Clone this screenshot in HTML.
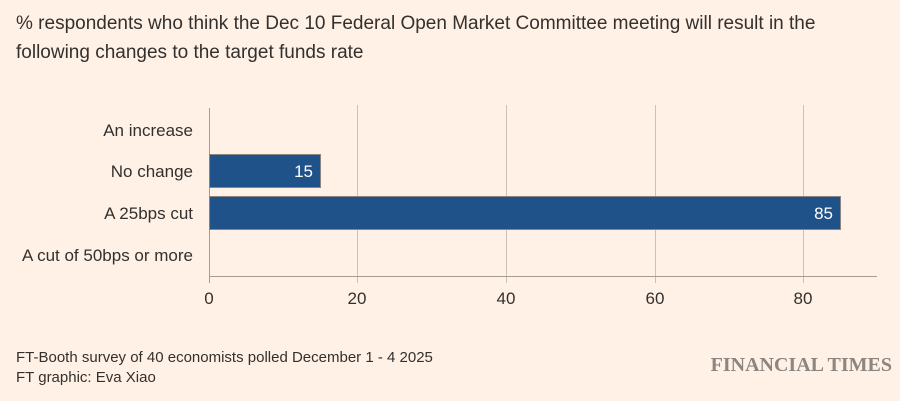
<!DOCTYPE html>
<html><head><meta charset="utf-8"><style>
body{margin:0;background:#fff1e5;font-family:"Liberation Sans",sans-serif;color:#33302e}
.wrap{position:relative;width:900px;height:401px;overflow:hidden}
</style></head><body><div class="wrap">
<div style="position:absolute;left:16px;top:9px;width:830px;font-size:19px;line-height:29px;color:#33302e">% respondents who think the Dec 10 Federal Open Market Committee meeting will result in the following changes to the target funds rate</div>
<svg width="900" height="401" style="position:absolute;left:0;top:0" font-family="Liberation Sans, sans-serif">
<g stroke="#ccc1b7" stroke-width="1">
<line x1="357.5" y1="105" x2="357.5" y2="283"/>
<line x1="506.5" y1="105" x2="506.5" y2="283"/>
<line x1="655.5" y1="105" x2="655.5" y2="283"/>
<line x1="803.5" y1="105" x2="803.5" y2="283"/>
</g>
<line x1="209" y1="276.5" x2="877" y2="276.5" stroke="#a59c94"/>
<line x1="209.5" y1="108" x2="209.5" y2="283" stroke="#a59c94"/>
<rect x="209.5" y="154.5" width="111" height="33" fill="#1e5289" stroke="#8a8580"/>
<rect x="209.5" y="196.5" width="631" height="33" fill="#1e5289" stroke="#8a8580"/>
<g fill="#fff" font-size="17" text-anchor="end">
<text x="313" y="177">15</text>
<text x="833" y="219">85</text>
</g>
<g font-size="17" text-anchor="end" fill="#33302e">
<text x="193" y="136">An increase</text>
<text x="193" y="177">No change</text>
<text x="193" y="219">A 25bps cut</text>
<text x="193" y="261">A cut of 50bps or more</text>
</g>
<g font-size="17" text-anchor="middle" fill="#33302e">
<text x="209" y="304">0</text>
<text x="357" y="304">20</text>
<text x="506" y="304">40</text>
<text x="655" y="304">60</text>
<text x="803" y="304">80</text>
</g>
<text x="16" y="362" font-size="15" fill="#33302e">FT-Booth survey of 40 economists polled December 1 - 4 2025</text>
<text x="16" y="382" font-size="15" fill="#33302e">FT graphic: Eva Xiao</text>
<text x="892" y="371" font-size="20" text-anchor="end" fill="#8c8580" font-family="Liberation Serif, serif" font-weight="bold">FINANCIAL TIMES</text>
</svg>
</div></body></html>
